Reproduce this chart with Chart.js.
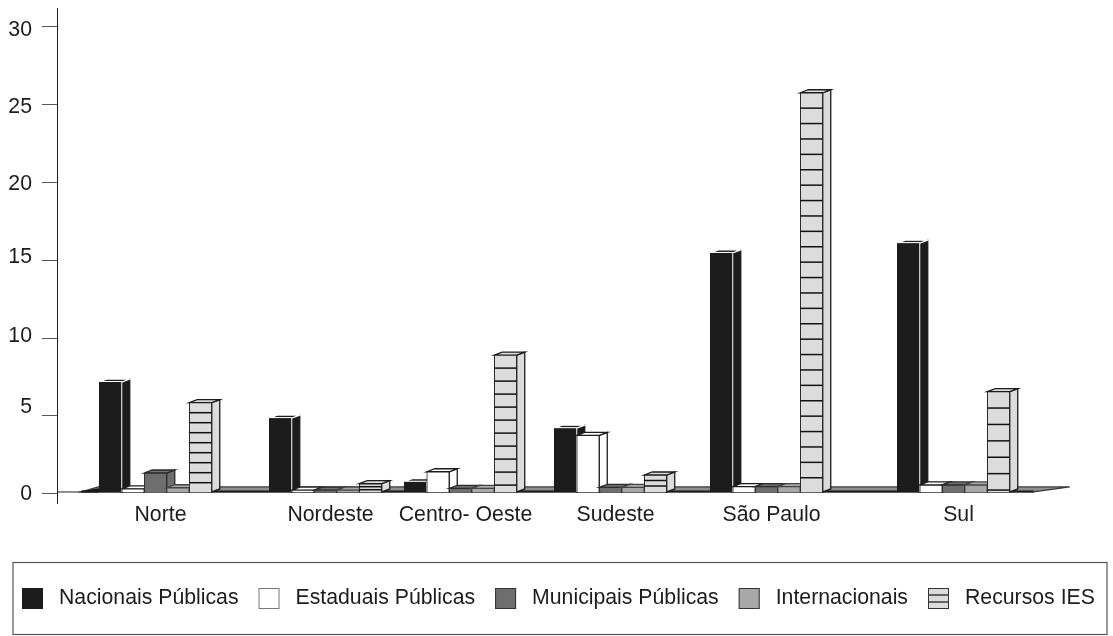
<!DOCTYPE html>
<html lang="pt-BR">
<head>
  <meta charset="UTF-8">
  <title>Fontes de recursos por região</title>
  <script src="https://cdn.jsdelivr.net/npm/chart.js@4"></script>
  <style>
    html, body { margin: 0; padding: 0; background: #fff; }
    canvas { display: block; }
  </style>
</head>
<body>
  <canvas id="myChart" width="1113" height="636"></canvas>
  <script>
    const regions = ['Norte', 'Nordeste', 'Centro- Oeste', 'Sudeste', 'São Paulo', 'Sul'];
    const seriesNames = ['Nacionais Públicas', 'Estaduais Públicas', 'Municipais Públicas', 'Internacionais', 'Recursos IES'];
    const nacionais = [7.17, 4.85, 0.76, 4.2, 15.47, 16.1];
    const estaduais = [0.3, 0.22, 1.4, 3.74, 0.44, 0.55];
    const municipais = [1.32, 0.22, 0.33, 0.4, 0.44, 0.55];
    const internacionais = [0.37, 0.22, 0.33, 0.4, 0.44, 0.55];
    const recursosIes = [5.84, 0.63, 8.9, 1.19, 25.77, 6.55];
    const yTicks = [0, 5, 10, 15, 20, 25, 30];

    // layout: the groups are not evenly spaced there
    const groupCenters = [155.5, 325.5, 460.5, 610.5, 766.5, 953.5];
    const hatchStep = [10, 3, 13, 5.5, 15.4, 16.4];
    const yLabelShift = [1, -9, -2, -3, 2, 2, 3];

    const FONT = '"Liberation Sans", Arial, sans-serif';
    const FONT_SIZE = 21.25;
    const INK = '#1c1c1c';
    const DX = 8, DY = -3;

    const fills = ['#1c1c1c', '#ffffff', '#6e6e6e', '#a8a8a8', '#dcdcdc'];
    const edges = ['#ffffff', '#1c1c1c', '#2a2a2a', '#444444', '#1c1c1c'];

    const seriesValues = [nacionais, estaduais, municipais, internacionais, recursosIes];

    function poly(ctx, pts, fill, stroke) {
      ctx.beginPath();
      pts.forEach((p, i) => i ? ctx.lineTo(p[0], p[1]) : ctx.moveTo(p[0], p[1]));
      ctx.closePath();
      ctx.fillStyle = fill;
      ctx.fill();
      ctx.lineWidth = 1.3;
      ctx.strokeStyle = stroke;
      ctx.stroke();
    }

    const fake3d = {
      id: 'fake3d',
      beforeDraw(chart) {
        // the tick labels in the picture do not sit exactly on their ticks
        const items = chart.scales.y.getLabelItems();
        items.forEach((it, i) => {
          if (!it.shifted) {
            it.options.translation[1] += yLabelShift[i];
            it.shifted = true;
          }
        });
      },
      beforeDatasetsDraw(chart) {
        const ctx = chart.ctx;
        const first = chart.getDatasetMeta(0).data[0];
        const last = chart.getDatasetMeta(4).data[5];
        const base = first.base;
        const left = first.x - first.width / 2 - 18;
        const right = last.x + last.width / 2 + 24;

        // floor
        ctx.save();
        poly(ctx, [[left, base], [left + 17, base - 5], [right + 36, base - 5], [right, base]], '#8f8f8f', '#3a3a3a');
        poly(ctx, [[left, base], [left + 17, base - 3], [left + 17, base]], '#111', '#111');
        ctx.fillStyle = '#1c1c1c';
        ctx.fillRect(left, base - 1.5, right - left, 2);
        ctx.strokeStyle = '#222';
        ctx.lineWidth = 1;
        ctx.beginPath();
        ctx.moveTo(chart.chartArea.left, base);
        ctx.lineTo(left, base);
        ctx.stroke();

        // bars, first series first so the next one covers its side
        chart.data.datasets.forEach((ds, d) => {
          chart.getDatasetMeta(d).data.forEach((el, i) => {
            const l = el.x - el.width / 2, r = el.x + el.width / 2;
            const top = el.y, bot = el.base;
            poly(ctx, [[r, top], [r + DX, top + DY], [r + DX, bot + DY], [r, bot]], fills[d], d === 0 ? INK : edges[d]);
            poly(ctx, [[l, top], [l + DX, top + DY], [r + DX, top + DY], [r, top]], fills[d], edges[d]);
            el.draw(ctx);
            if (d === 0) {
              ctx.strokeStyle = '#fff';
              ctx.lineWidth = 1;
              ctx.beginPath();
              ctx.moveTo(l, top - 0.5);
              ctx.lineTo(r, top - 0.5);
              ctx.lineTo(r, bot);
              ctx.stroke();
            }
            if (d === 4) {
              ctx.strokeStyle = '#111';
              ctx.lineWidth = 1.5;
              for (let y = top + hatchStep[i]; y < bot - 1; y += hatchStep[i]) {
                ctx.beginPath();
                ctx.moveTo(l, y);
                ctx.lineTo(r, y);
                ctx.stroke();
              }
            }
          });
        });
        ctx.restore();
        return false;
      },
      afterDraw(chart) {
        const ctx = chart.ctx;
        ctx.save();
        ctx.strokeStyle = '#555';
        ctx.lineWidth = 1.2;
        ctx.strokeRect(13, 562.5, 1094, 72);

        ctx.font = FONT_SIZE + 'px ' + FONT;
        ctx.textBaseline = 'middle';
        let x = 22;
        seriesNames.forEach((name, d) => {
          ctx.fillStyle = fills[d];
          ctx.fillRect(x, 588, 21, 21);
          if (d === 4) {
            ctx.strokeStyle = '#111';
            ctx.lineWidth = 1.2;
            [595, 602].forEach(y => {
              ctx.beginPath();
              ctx.moveTo(x, y);
              ctx.lineTo(x + 21, y);
              ctx.stroke();
            });
          }
          if (d > 0) {
            ctx.strokeStyle = d === 1 ? '#777' : '#333';
            ctx.lineWidth = 1;
            ctx.strokeRect(x + 0.5, 588.5, 20, 20);
          }
          ctx.fillStyle = INK;
          ctx.fillText(name, x + 37, 598.5);
          x += 37 + ctx.measureText(name).width + 20;
        });
        ctx.restore();
      }
    };

    const ctx = document.getElementById('myChart').getContext('2d');
    new Chart(ctx, {
      type: 'bar',
      data: {
        datasets: seriesNames.map((name, d) => ({
          label: name,
          data: seriesValues[d].map((v, i) => ({ x: groupCenters[i], y: v })),
          backgroundColor: fills[d],
          borderColor: d === 0 ? INK : edges[d],
          borderWidth: 1,
          base: 0.1,
          barThickness: 22.5
        }))
      },
      options: {
        responsive: false,
        animation: false,
        events: [],
        layout: { padding: { top: 8, left: 0, right: 0, bottom: 0 } },
        plugins: { legend: { display: false }, tooltip: { enabled: false } },
        scales: {
          x: {
            type: 'linear',
            offset: false,
            min: 57,
            max: 1113,
            grid: { display: false, offset: false },
            border: { display: false },
            afterBuildTicks: axis => { axis.ticks = groupCenters.map(v => ({ value: v })); },
            afterFit: axis => { axis.height = 133; axis.paddingLeft = 0; axis.paddingRight = 0; },
            ticks: {
              autoSkip: false,
              maxRotation: 0,
              minRotation: 0,
              padding: -9,
              labelOffset: 5,
              color: INK,
              font: { family: FONT, size: FONT_SIZE },
              callback: (value, i) => regions[i]
            }
          },
          y: {
            min: -0.61,
            max: 31.22,
            afterBuildTicks: axis => { axis.ticks = yTicks.map(v => ({ value: v })); },
            afterFit: axis => { axis.width = 57; axis.paddingTop = 0; axis.paddingBottom = 0; },
            grid: { drawOnChartArea: false, tickLength: 15, color: '#555' },
            border: { color: '#222', width: 1 },
            ticks: {
              autoSkip: false,
              padding: 10,
              color: INK,
              font: { family: FONT, size: FONT_SIZE }
            }
          }
        }
      },
      plugins: [fake3d]
    });
  </script>
</body>
</html>
